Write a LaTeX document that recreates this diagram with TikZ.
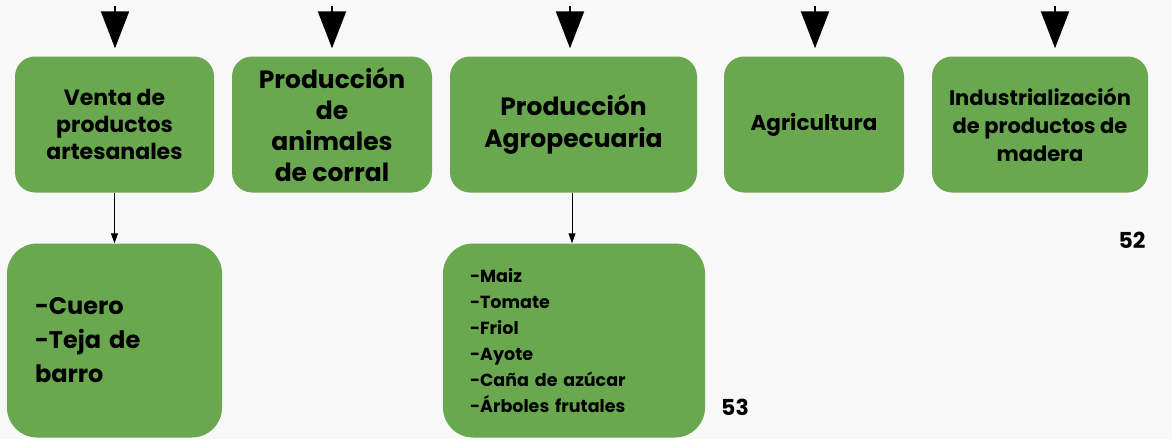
\documentclass[tikz,border=0pt]{standalone}
\usepackage{fontspec}
\setmainfont{Poppins}
\usetikzlibrary{positioning,arrows.meta}
\definecolor{boxgreen}{RGB}{106,168,79}
\definecolor{slidebg}{RGB}{248,248,248}

\begin{document}
\begin{tikzpicture}[x=1pt,y=-1pt,
  topbox/.style={fill=boxgreen, rounded corners=20pt, minimum height=136pt, align=center, inner sep=2pt},
  lowbox/.style={fill=boxgreen, rounded corners=30pt, minimum height=194pt, align=left},
  bigtip/.style={-{Triangle[width=28pt,length=37pt]}, line width=2pt, shorten >=8pt},
  smalltip/.style={-{Triangle[width=7pt,length=10pt]}, line width=1pt},
  pagenum/.style={font=\bfseries\fontsize{22}{24}\selectfont}]

\fill[slidebg] (0,0) rectangle (1172,439);
\useasboundingbox (0,0) rectangle (1172,439);

% top row
\node[topbox, minimum width=199pt, font=\bfseries\fontsize{22}{27}\selectfont] (venta) at (114.5,124.5) {Venta de\\productos\\artesanales};
\node[topbox, minimum width=200pt, font=\bfseries\fontsize{25}{31}\selectfont] (animales) at (332,124.5) {Producción\\de\\animales\\de corral};
\node[topbox, minimum width=247pt, font=\bfseries\fontsize{25}{32}\selectfont] (agro) at (573.5,124.5) {Producción\\Agropecuaria};
\node[topbox, minimum width=180pt, font=\bfseries\fontsize{21.5}{27}\selectfont] (agri) at (814,124.5) {Agricultura};
\node[topbox, minimum width=216pt, font=\bfseries\fontsize{21}{28}\selectfont] (madera) at (1040,124.5) {Industrialización\\de productos de\\madera};

% arrows coming from above
\coordinate (t1) at (115,6);
\coordinate (t2) at (332,6);
\coordinate (t3) at (570,6);
\coordinate (t4) at (815,6);
\coordinate (t5) at (1055,6);
\draw[bigtip] (t1) -- (t1 |- venta.north);
\draw[bigtip] (t2) -- (t2 |- animales.north);
\draw[bigtip] (t3) -- (t3 |- agro.north);
\draw[bigtip] (t4) -- (t4 |- agri.north);
\draw[bigtip] (t5) -- (t5 |- madera.north);

% bottom row
\node[lowbox, text width=159pt, inner xsep=28pt, font=\bfseries\fontsize{24}{34}\selectfont] (cuero) at (114.5,340.5) {-Cuero\\-Teja de\\barro};
\node[lowbox, text width=208pt, inner xsep=27pt, font=\bfseries\fontsize{17.5}{26}\selectfont] (cultivos) at (574,340.5) {-Maiz\\-Tomate\\-Friol\\-Ayote\\-Caña de azúcar\\-Árboles frutales};

\draw[smalltip] (venta.south) -- (cuero.north);
\draw[smalltip] (agro.south -| 572,0) -- (cultivos.north -| 572,0);

\node[pagenum] (p52) at (1132,240) {52};
\node[pagenum] (p53) at (735,407) {53};

\end{tikzpicture}
\end{document}
